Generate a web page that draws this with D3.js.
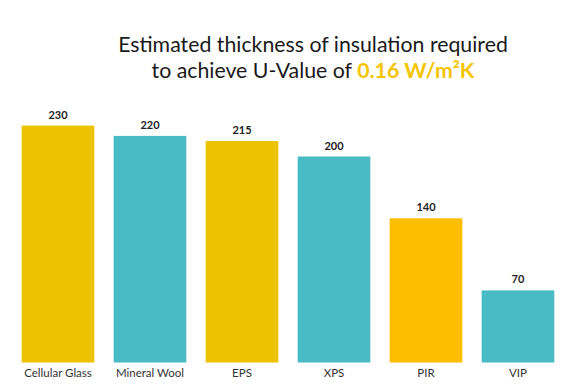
<!DOCTYPE html>
<html>
<head>
<meta charset="utf-8">
<script src="https://cdn.jsdelivr.net/npm/d3@7"></script>
<style>
  html, body { margin: 0; padding: 0; background: #fff; }
  svg { display: block; }
</style>
</head>
<body>
<svg id="chart" width="575" height="384"></svg>
<script>
const categories = ["Cellular Glass", "Mineral Wool", "EPS", "XPS", "PIR", "VIP"];
const values = [230, 220, 215, 200, 140, 70];
const barColors = ["#EDC200", "#49BBC4", "#EDC200", "#49BBC4", "#FDBE00", "#49BBC4"];
const titleLine1 = "Estimated thickness of insulation required";
const titleLine2a = "to achieve U-Value of ";
const titleLine2b = "0.16 W/m²K";

const svg = d3.select("#chart");
const font = "Lato, 'Open Sans', sans-serif";

const x = d3.scaleBand().domain(categories).range([12, 564]).paddingInner(0.21).paddingOuter(0.105);
const y = d3.scaleLinear().domain([0, 250]).range([362.5, 105]);

// Title
const t1 = svg.append("text")
  .attr("x", 313).attr("y", 52)
  .attr("text-anchor", "middle")
  .style("font-family", font).style("font-size", "21.3px").style("fill", "#1a1a1a")
  .text(titleLine1);
const t2 = svg.append("text")
  .attr("x", 313).attr("y", 78)
  .attr("text-anchor", "middle")
  .style("font-family", font).style("font-size", "21.3px").style("fill", "#1a1a1a");
t2.append("tspan").text(titleLine2a);
t2.append("tspan").style("fill", "#F5C400").style("font-weight", "bold").text(titleLine2b);

// Bars
svg.append("g").selectAll("rect")
  .data(values)
  .join("rect")
  .attr("x", (d, i) => x(categories[i]))
  .attr("y", d => y(d))
  .attr("width", x.bandwidth())
  .attr("height", d => y(0) - y(d))
  .attr("fill", (d, i) => barColors[i]);

// Value labels
svg.append("g").selectAll("text")
  .data(values)
  .join("text")
  .attr("x", (d, i) => x(categories[i]) + x.bandwidth() / 2)
  .attr("y", d => y(d) - 7)
  .attr("text-anchor", "middle")
  .style("font-family", font).style("font-size", "11px").style("font-weight", "bold").style("fill", "#222")
  .text(d => d);

// Category axis
const xAxis = d3.axisBottom(x).tickSize(0).tickPadding(0);
const gx = svg.append("g").attr("transform", `translate(0, ${y(0)})`).call(xAxis);
gx.select(".domain").remove();
gx.selectAll("text")
  .attr("dy", null)
  .attr("y", 14.5)
  .style("font-family", font).style("font-size", "11.5px").style("fill", "#333");
</script>
</body>
</html>
